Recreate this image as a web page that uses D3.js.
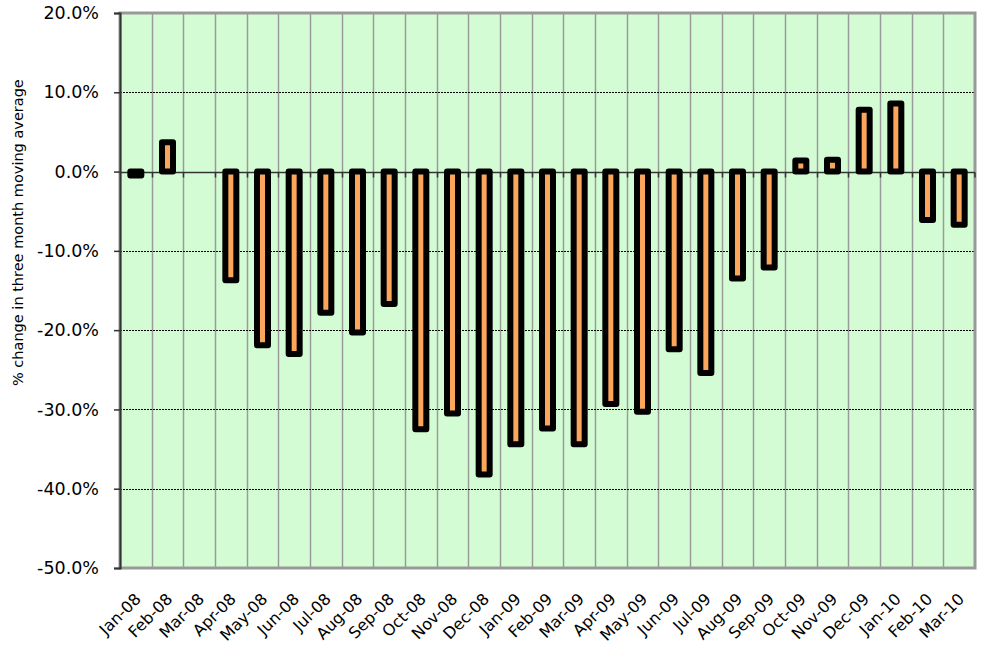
<!DOCTYPE html>
<meta charset="utf-8">
<style>
body { margin: 0; background: #fff; }
text { font-family: 'DejaVu Sans', sans-serif; fill: #000; }
</style>
<div class="chart"></div>
<script src="https://d3js.org/d3.v7.min.js"></script>
<script>
    var months = ["Jan-08", "Feb-08", "Mar-08", "Apr-08", "May-08", "Jun-08", "Jul-08", "Aug-08", "Sep-08",
        "Oct-08", "Nov-08", "Dec-08", "Jan-09", "Feb-09", "Mar-09", "Apr-09", "May-09", "Jun-09", "Jul-09",
        "Aug-09", "Sep-09", "Oct-09", "Nov-09", "Dec-09", "Jan-10", "Feb-10", "Mar-10"];
    var change = [-0.5, 3.7, 0, -13.7, -21.9, -23.0, -17.8, -20.3, -16.7,
        -32.5, -30.5, -38.2, -34.4, -32.4, -34.4, -29.3, -30.3, -22.4, -25.4,
        -13.5, -12.1, 1.4, 1.5, 7.8, 8.6, -6.1, -6.7];
    var yTicks = [20, 10, 0, -10, -20, -30, -40, -50];

    var margin = { top: 13, right: 7, bottom: 82, left: 120 };
    var width = 982 - margin.left - margin.right;
    var height = 650 - margin.top - margin.bottom;

    var svg = d3.select(".chart")
        .append("svg")
        .attr("width", 982)
        .attr("height", 650)
        .append("g")
        .attr("transform", "translate(" + margin.left + "," + margin.top + ")");

    var x = d3.scaleBand().domain(months).range([0, width]);
    var y = d3.scaleLinear().domain([-50, 20]).range([height, 0]);

    // plot background
    svg.append("rect")
        .attr("width", width)
        .attr("height", height)
        .style("fill", "#D4FCD4");

    // vertical grid at category boundaries
    svg.selectAll(".vgrid")
        .data(months.slice(1))
        .enter()
        .append("line")
        .attr("x1", function (d) { return Math.round(x(d)) + 0.5; })
        .attr("x2", function (d) { return Math.round(x(d)) + 0.5; })
        .attr("y1", 0)
        .attr("y2", height)
        .style("stroke", "#9A9A9A")
        .style("stroke-width", 1.5);

    // horizontal dotted grid
    svg.selectAll(".hgrid")
        .data(yTicks.filter(function (d) { return d !== 0 && d !== -50 && d !== 20; }))
        .enter()
        .append("line")
        .attr("x1", 0)
        .attr("x2", width)
        .attr("y1", function (d) { return Math.round(y(d)) + 0.5; })
        .attr("y2", function (d) { return Math.round(y(d)) + 0.5; })
        .style("stroke", "#000")
        .style("stroke-width", 1)
        .style("stroke-dasharray", "2,1");

    // border
    svg.append("rect")
        .attr("width", width)
        .attr("height", height)
        .style("fill", "none")
        .style("stroke", "#999")
        .style("stroke-width", 3);

    // zero line with category ticks
    var zero = Math.round(y(0)) + 0.5;
    svg.append("line")
        .attr("x1", 0).attr("x2", width)
        .attr("y1", zero).attr("y2", zero)
        .style("stroke", "#333")
        .style("stroke-width", 1.5);

    svg.selectAll(".ztick")
        .data(months.slice(1).concat(["end"]))
        .enter()
        .append("line")
        .attr("x1", function (d) { return d === "end" ? width : Math.round(x(d)) + 0.5; })
        .attr("x2", function (d) { return d === "end" ? width : Math.round(x(d)) + 0.5; })
        .attr("y1", zero)
        .attr("y2", zero + 5)
        .style("stroke", "#333")
        .style("stroke-width", 1.5);

    // bars
    var barW = 11;
    svg.selectAll(".bar")
        .data(change)
        .enter()
        .append("rect")
        .attr("class", "bar")
        .attr("x", function (d, i) { return x(months[i]) + x.bandwidth() / 2 - barW / 2; })
        .attr("width", barW)
        .attr("y", function (d) { return y(Math.max(0, d)); })
        .attr("height", function (d) { return Math.abs(y(d) - y(0)); })
        .style("fill", "#FBA65A")
        .style("stroke", "#000")
        .style("stroke-width", 6)
        .style("stroke-linejoin", "round")
        .style("display", function (d) { return d === 0 ? "none" : null; });

    // y axis
    var yAxis = svg.append("g")
        .attr("class", "y axis")
        .call(d3.axisLeft(y)
            .tickValues(yTicks)
            .tickSize(6)
            .tickPadding(15)
            .tickFormat(function (d) { return d.toFixed(1) + "%"; }));
    yAxis.select(".domain").style("stroke", "#333").style("stroke-width", 2);
    yAxis.selectAll("line").style("stroke", "#333").style("stroke-width", 1.5);
    yAxis.selectAll("text")
        .style("font-family", "'DejaVu Sans', sans-serif")
        .style("font-size", "17.5px");

    // x axis labels
    var xAxis = svg.append("g")
        .attr("class", "x axis")
        .attr("transform", "translate(0," + height + ")")
        .call(d3.axisBottom(x).tickSize(0).tickPadding(0));
    xAxis.select(".domain").remove();
    xAxis.selectAll("text")
        .style("font-family", "'DejaVu Sans', sans-serif")
        .style("font-size", "16px")
        .attr("text-anchor", "end")
        .attr("dy", 0)
        .attr("transform", "translate(6,32) rotate(-45)");

    // y axis title
    svg.append("text")
        .attr("text-anchor", "middle")
        .attr("transform", "translate(-97," + y(-7.7) + ") rotate(-90)")
        .style("font-size", "14.5px")
        .text("% change in three month moving average");
</script>
